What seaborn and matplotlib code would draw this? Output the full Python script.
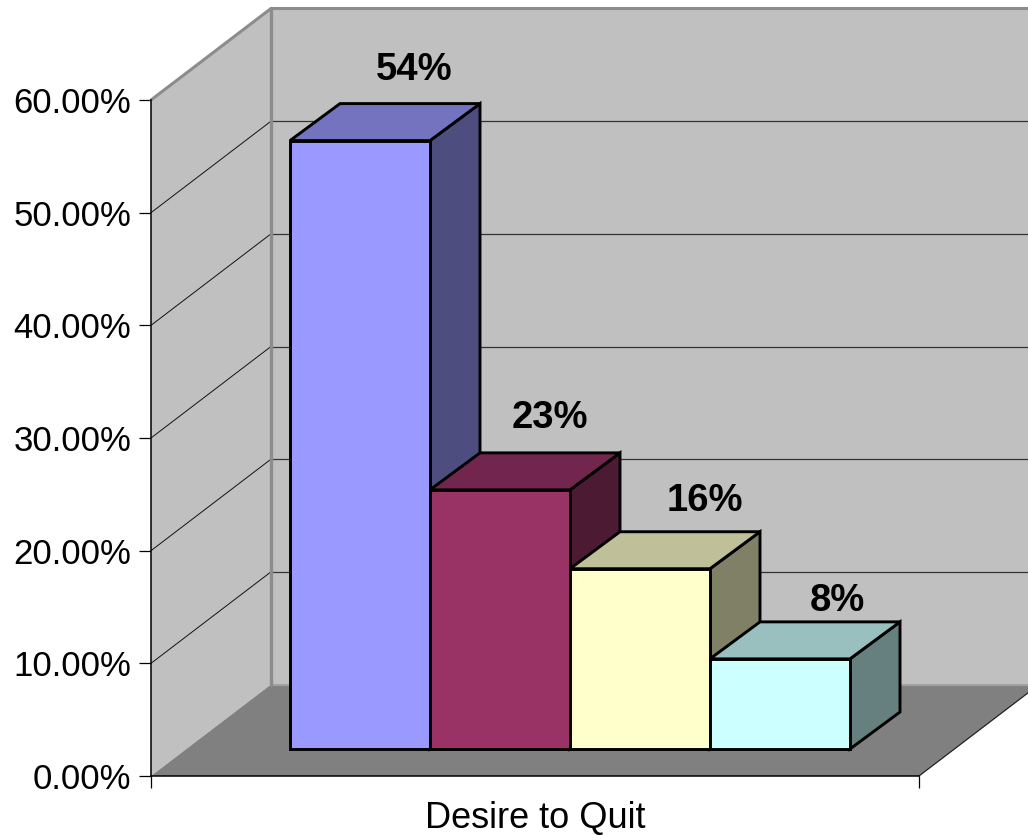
import matplotlib
matplotlib.use("Agg")
import matplotlib.pyplot as plt
import matplotlib.colors as mcolors
from matplotlib.patches import Polygon
from matplotlib.ticker import FuncFormatter
import pandas as pd
import seaborn as sns

# Values
categories = ["Very strong", "Strong", "Moderate", "Low"]
shares = [54, 23, 16, 8]
bar_colors = ["#9999FF", "#993366", "#FFFFCC", "#CCFFFF"]
axis_ticks = [0, 10, 20, 30, 40, 50, 60]
group_label = "Desire to Quit"

# Label placement relative to each bar's front-top centre, in pixels
label_dx = [54, 50, 65, 57]
label_dy = [71, 72, 68, 58]

# Figure geometry, in pixels
W, H = 1028, 835
PX_PER_PCT = 676 / 60
FRAME_L, FRAME_R, FRAME_BASE = 151, 919, 776
WALL_DX, WALL_DY = 120, 91.5
BARS_L, BARS_R, BARS_BASE = 290, 850, 749
BAR_DX, BAR_DY = 50, 37
BAR_LW = 2.1

sns.set_theme(style="white")
plt.rcParams["font.family"] = ["Liberation Sans", "DejaVu Sans"]

fig = plt.figure(figsize=(W / 100, H / 100), dpi=100, facecolor="white")

# Frame axes: front plane of the chart box, carrying the value axis
frame = fig.add_axes([FRAME_L / W, (H - FRAME_BASE) / H,
                      (FRAME_R - FRAME_L) / W, 60 * PX_PER_PCT / H])
frame.set_xlim(0, 1)
frame.set_ylim(0, 60)
frame.patch.set_visible(False)
dx_f = WALL_DX / (FRAME_R - FRAME_L)
dy_f = WALL_DY / PX_PER_PCT
WALL = "#C0C0C0"
FLOOR = "#808080"

frame.add_patch(Polygon([(dx_f, dy_f), (dx_f, 60 + dy_f), (1 + dx_f, 60 + dy_f), (1 + dx_f, dy_f)],
                        fc=WALL, ec="none", clip_on=False, zorder=1))
frame.add_patch(Polygon([(0, 0), (0, 60), (dx_f, 60 + dy_f), (dx_f, dy_f)],
                        fc=WALL, ec="none", clip_on=False, zorder=1))
frame.add_patch(Polygon([(0, 0), (1, 0), (1 + dx_f, dy_f), (dx_f, dy_f)],
                        fc=FLOOR, ec="none", clip_on=False, zorder=1))

# Gridlines on the side wall and the back wall
for t in axis_ticks[1:-1]:
    frame.plot([0, dx_f], [t, t + dy_f], color="#111111", lw=0.7, clip_on=False, zorder=2)
    frame.plot([dx_f, 1 + dx_f], [t + dy_f, t + dy_f], color="#333333", lw=0.9, clip_on=False, zorder=2)

# Wall edges
frame.plot([0, dx_f, 1 + dx_f], [60, 60 + dy_f, 60 + dy_f], color="#8C8C8C", lw=2.2,
           clip_on=False, zorder=3, solid_joinstyle="miter")
frame.plot([dx_f, dx_f], [dy_f, 60 + dy_f], color="#8C8C8C", lw=2.4, clip_on=False, zorder=3)
frame.plot([dx_f, 1 + dx_f], [dy_f, dy_f], color="#A0A0A0", lw=0.8, clip_on=False, zorder=2)
frame.plot([1, 1 + dx_f], [0, dy_f], color="#222222", lw=0.9, clip_on=False, zorder=3)

for side in ("top", "right"):
    frame.spines[side].set_visible(False)
for side in ("left", "bottom"):
    frame.spines[side].set_color("black")
    frame.spines[side].set_linewidth(1.1)
    frame.spines[side].set_zorder(4)
frame.set_yticks(axis_ticks)
frame.yaxis.set_major_formatter(FuncFormatter(lambda v, _: f"{v:.2f}%"))
frame.set_xticks([0, 1])
frame.set_xticklabels([])
frame.tick_params(axis="both", which="major", direction="out", length=8.6, width=0.9,
                  color="black", left=True, bottom=True, labelsize=25, labelcolor="black", pad=5.5)
for tick_label in frame.get_yticklabels():
    tick_label.set_y(tick_label.get_position()[1])
frame.set_xlabel(group_label, fontsize=26, color="black")
frame.xaxis.set_label_coords(0.5, -0.037, transform=frame.transAxes)
frame.xaxis.label.set_verticalalignment("top")

# Bar axes: the plane of the bars' front faces
ax = fig.add_axes([BARS_L / W, (H - BARS_BASE) / H,
                   (BARS_R - BARS_L) / W, 60 * PX_PER_PCT / H])
ax.patch.set_visible(False)
df = pd.DataFrame({"category": categories, "share": shares})
sns.barplot(data=df, x="category", y="share", hue="category", palette=bar_colors,
            order=categories, hue_order=categories, dodge=False, width=1.0, saturation=1,
            edgecolor="black", linewidth=BAR_LW, legend=False, ax=ax, zorder=20, clip_on=False)
ax.set_xlim(-0.5, len(categories) - 0.5)
ax.set_ylim(0, 60)
ax.axis("off")

dx_b = BAR_DX / ((BARS_R - BARS_L) / len(categories))
dy_b = BAR_DY / PX_PER_PCT


def shade(color, factor):
    return tuple(c * factor for c in mcolors.to_rgb(color))


# Depth faces of each bar, layered left to right
for i, (v, c) in enumerate(zip(shares, bar_colors)):
    l, r = i - 0.5, i + 0.5
    ax.add_patch(Polygon([(r, 0), (r + dx_b, dy_b), (r + dx_b, v + dy_b), (r, v)],
                         fc=shade(c, 0.5), ec="black", lw=BAR_LW, clip_on=False,
                         zorder=5 + i, joinstyle="miter"))
    ax.add_patch(Polygon([(l, v), (l + dx_b, v + dy_b), (r + dx_b, v + dy_b), (r, v)],
                         fc=shade(c, 0.75), ec="black", lw=BAR_LW, clip_on=False,
                         zorder=5 + i, joinstyle="miter"))

# Value labels
for i, v in enumerate(shares):
    ax.annotate(f"{v}%", xy=(i, v), xytext=(label_dx[i] * 0.72, label_dy[i] * 0.72),
                textcoords="offset points", ha="center", va="center",
                fontsize=27.5, fontweight="bold", color="black", zorder=30,
                annotation_clip=False)

fig.savefig("out.png", dpi=100, facecolor="white")
